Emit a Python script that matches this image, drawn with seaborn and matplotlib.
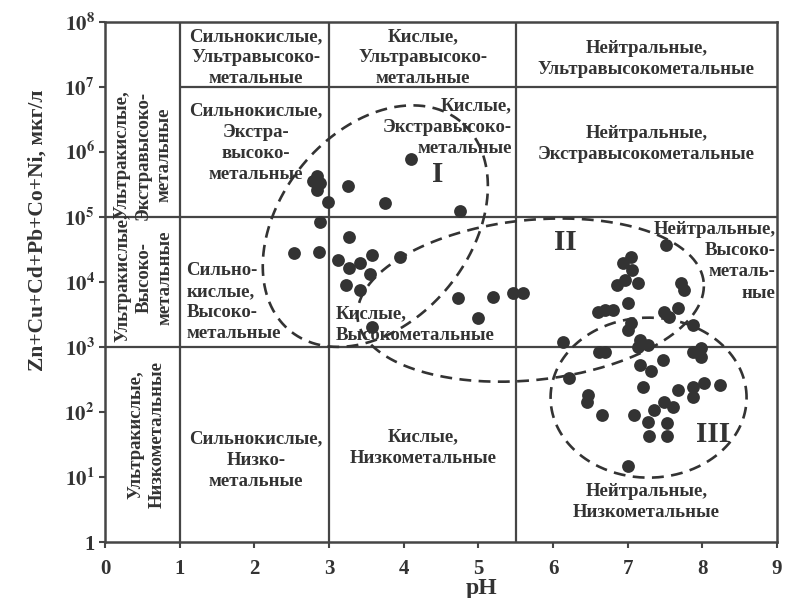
import numpy as np
import pandas as pd
import matplotlib
matplotlib.use("Agg")
import matplotlib.pyplot as plt
import seaborn as sns

# measured samples: pH and sum of metals (Zn+Cu+Cd+Pb+Co+Ni), ug/l
ph = [4.10, 2.84, 2.79, 2.88, 2.84, 3.26, 2.99, 3.75, 4.75, 2.88,
      3.27, 2.53, 2.86, 3.12, 3.27, 3.42, 3.58, 3.55, 3.95, 3.23,
      3.42, 4.73, 5.00, 3.58, 5.20, 5.47, 5.60,
      7.51, 7.04, 6.94, 7.06, 6.97, 6.86, 7.14, 7.71, 7.75, 7.01,
      6.60, 6.70, 6.81, 7.48, 7.55, 7.68, 7.04, 7.01, 7.88, 7.17,
      7.27, 7.14, 6.14, 7.98, 7.88, 7.98, 6.61, 6.70, 7.47, 7.17,
      7.31, 6.21, 7.21, 6.47, 6.45, 7.67, 7.88, 8.02, 8.24, 7.48,
      7.61, 7.35, 7.87, 6.66, 7.08, 7.27, 7.53, 7.28, 7.53, 7.00]
metals = [780000, 420000, 350000, 330000, 260000, 300000, 170000, 165000, 125000, 83000,
          49000, 28000, 29000, 22000, 16600, 19500, 26000, 13000, 24000, 8900,
          7600, 5600, 2800, 2000, 5900, 6800, 6800,
          37000, 24000, 19500, 15000, 10700, 8900, 9500, 9500, 7600, 4800,
          3500, 3700, 3700, 3500, 2900, 4000, 2300, 1800, 2200, 1300,
          1070, 1000, 1200, 950, 830, 710, 830, 830, 630, 525,
          420, 330, 240, 180, 140, 220, 240, 280, 260, 140,
          120, 107, 170, 89, 89, 71, 68, 42, 42, 15]

zone_ph = [1, 3, 5.5]
zone_metal = [1e3, 1e5, 1e7]

x_ticks = list(range(10))
y_ticks = [1, 1e1, 1e2, 1e3, 1e4, 1e5, 1e6, 1e7, 1e8]
y_tick_labels = ["1"] + [r"$\mathbf{10^{%d}}$" % i for i in range(1, 9)]

# sample groups outlined by dashed ellipses
group_names = ["I", "II", "III"]
group_ph = [3.62, 5.70, 7.28]
group_metal = [72000, 5250, 166]
group_label_ph = [4.45, 6.17, 8.15]
group_label_metal = [450000, 40000, 45]

cell_labels = [
    ("Сильнокислые,\nУльтравысоко-\nметальные", 2.02, 10**7.45, "center", 0),
    ("Кислые,\nУльтравысоко-\nметальные", 4.26, 10**7.45, "center", 0),
    ("Нейтральные,\nУльтравысокометальные", 7.25, 10**7.43, "center", 0),
    ("Сильнокислые,\nЭкстра-\nвысоко-\nметальные", 2.02, 10**6.14, "center", 0),
    ("Кислые,\nЭкстравысоко-\nметальные", 5.45, 10**6.38, "right", 0),
    ("Нейтральные,\nЭкстравысокометальные", 7.25, 10**6.12, "center", 0),
    ("Сильно-\nкислые,\nВысоко-\nметальные", 1.09, 10**3.69, "left", 0),
    ("Кислые,\nВысокометальные", 3.09, 10**3.34, "left", 0),
    ("Нейтральные,\nВысоко-\nметаль-\nные", 8.98, 10**4.32, "right", 0),
    ("Сильнокислые,\nНизко-\nметальные", 2.02, 10**1.26, "center", 0),
    ("Кислые,\nНизкометальные", 4.26, 10**1.45, "center", 0),
    ("Нейтральные,\nНизкометальные", 7.25, 10**0.62, "center", 0),
    ("Ультракислые,\nЭкстравысоко-\nметальные", 0.51, 10**5.95, "center", 90),
    ("Ультракислые,\nВысоко-\nметальные", 0.52, 10**4.06, "center", 90),
    ("Ультракислые,\nНизкометальные", 0.56, 10**1.65, "center", 90),
]

INK = "#333333"
LINE = "#454545"

sns.set_style("ticks")
plt.rcParams["font.family"] = ["Liberation Serif", "DejaVu Serif"]
plt.rcParams["font.weight"] = "bold"
plt.rcParams["mathtext.fontset"] = "stix"

fig = plt.figure(figsize=(7.85, 5.98), dpi=100)
ax = fig.add_axes([0.1338, 0.0936, 0.856, 0.870])

ax.set_yscale("log")
ax.set_xlim(0, 9)
ax.set_ylim(1, 1e8)

df = pd.DataFrame({"ph": ph, "metals": metals})
sns.scatterplot(data=df, x="ph", y="metals", s=85, color=INK,
                edgecolor=INK, linewidth=0, ax=ax, zorder=4)

# zone boundaries
for xv in zone_ph:
    ax.axvline(xv, color=LINE, lw=1.6, zorder=2)
ax.hlines(zone_metal[:2], 0, 9, color=LINE, lw=1.6, zorder=2)
ax.hlines(zone_metal[2], zone_ph[0], 9, color=LINE, lw=1.6, zorder=2)

# ellipses (sizes in screen pixels, tilt in degrees)
semi_a = [135, 174, 98]
semi_b = [95, 80, 80]
tilt = [51, 6, 0]
t = np.linspace(0, 2 * np.pi, 300)
for cx, cy, a, b, ang in zip(group_ph, group_metal, semi_a, semi_b, tilt):
    c = ax.transData.transform((cx, cy))
    th = np.deg2rad(ang)
    ex = a * np.cos(t) * np.cos(th) - b * np.sin(t) * np.sin(th)
    ey = a * np.cos(t) * np.sin(th) + b * np.sin(t) * np.cos(th)
    pts = ax.transData.inverted().transform(np.column_stack([c[0] + ex, c[1] + ey]))
    ax.plot(pts[:, 0], pts[:, 1], color=INK, lw=1.9, ls=(0, (4.5, 2.8)), zorder=3)

for name, gx, gy in zip(group_names, group_label_ph, group_label_metal):
    ax.text(gx, gy, name, fontsize=21, fontweight="bold", color=INK,
            ha="center", va="center", zorder=5)

for txt, tx, ty, ha, rot in cell_labels:
    ax.text(tx, ty, txt, fontsize=13.5, fontweight="bold", color=INK, ha=ha,
            va="center", rotation=rot, linespacing=1.33,
            multialignment=ha if rot == 0 else "center", zorder=5)

ax.set_xticks(x_ticks)
ax.set_xticklabels([str(v) for v in x_ticks], fontsize=15, fontweight="bold", color=INK)
ax.set_yticks(y_ticks)
ax.set_yticklabels(y_tick_labels, fontsize=15, fontweight="bold", color=INK)
ax.minorticks_off()
ax.tick_params(direction="out", length=4, width=1.5, color=LINE)
ax.tick_params(axis="x", pad=8)

for sp in ax.spines.values():
    sp.set_color(LINE)
    sp.set_linewidth(1.8)

ax.set_xlabel("pH", fontsize=17, fontweight="bold", color=INK)
ax.xaxis.set_label_coords(0.56, -0.07)
ax.set_ylabel("Zn+Cu+Cd+Pb+Co+Ni, мкг/л", fontsize=15.5, fontweight="bold", color=INK)
ax.yaxis.set_label_coords(-0.085, 0.6)

fig.savefig("out.png", dpi=100)
